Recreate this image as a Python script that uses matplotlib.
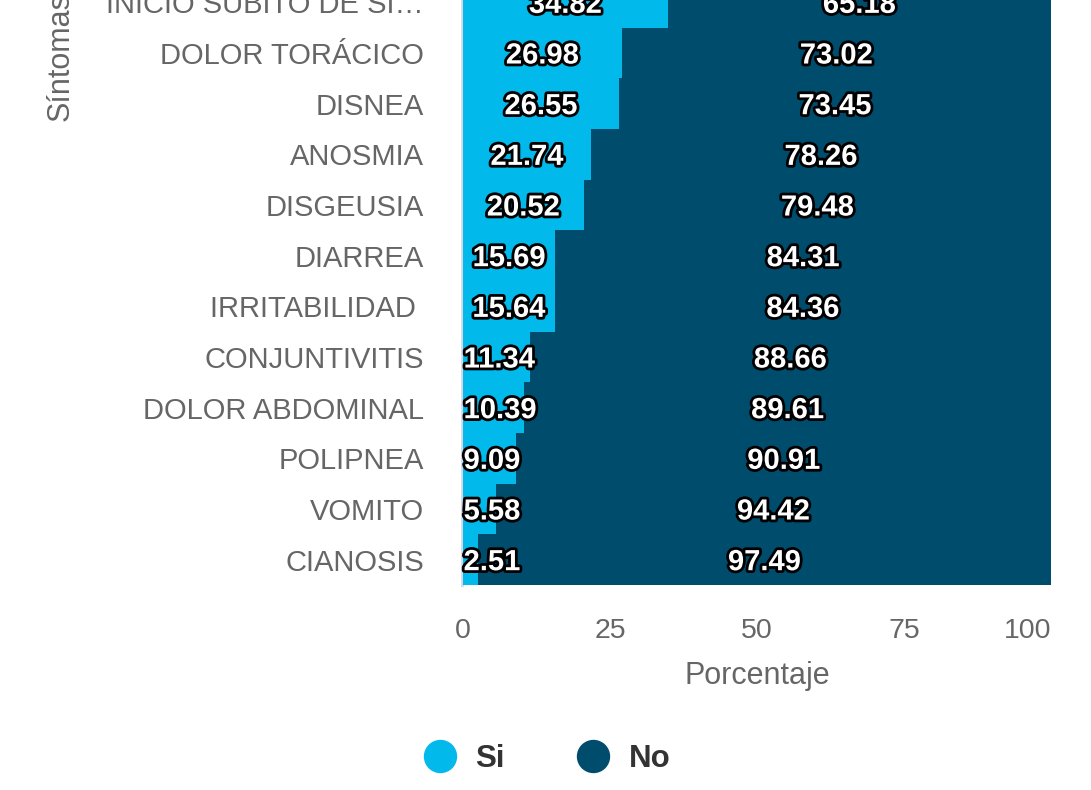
import matplotlib
matplotlib.use("Agg")
import matplotlib.pyplot as plt
import matplotlib.patheffects as pe
from matplotlib.lines import Line2D

plt.rcParams['font.family'] = ['Liberation Sans', 'DejaVu Sans']

# data, bottom row first
sintomas = ['CIANOSIS', 'VOMITO', 'POLIPNEA', 'DOLOR ABDOMINAL', 'CONJUNTIVITIS',
            'IRRITABILIDAD ', 'DIARREA', 'DISGEUSIA', 'ANOSMIA', 'DISNEA',
            'DOLOR TORÁCICO', 'INICIO SUBITO DE SI…']
si = [2.51, 5.58, 9.09, 10.39, 11.34, 15.64, 15.69, 20.52, 21.74, 26.55, 26.98, 34.82]
no = [97.49, 94.42, 90.91, 89.61, 88.66, 84.36, 84.31, 79.48, 78.26, 73.45, 73.02, 65.18]
xticks = [0, 25, 50, 75, 100]

c_si = '#02B9EC'
c_no = '#004C6D'
grey = '#666666'

W, H = 1091, 790
fig = plt.figure(figsize=(W / 100, H / 100), dpi=100)
# axes runs off the top of the picture (cropped chart)
ax = fig.add_axes([463 / W, 205 / H, 588 / W, (585 + 23) / H])

y = list(range(len(sintomas)))
ax.barh(y, si, height=1.0, color=c_si, zorder=2)
ax.barh(y, no, left=si, height=1.0, color=c_no, zorder=2)

stroke = [pe.withStroke(linewidth=4, foreground='black')]
for yi, s, n in zip(y, si, no):
    ty = yi - 0.05
    if s / 2 < 6.5:
        ax.text(0.1, ty, f'{s:.2f}', ha='left', va='center', color='white',
                fontsize=21, fontweight='bold', path_effects=stroke, zorder=3)
    else:
        ax.text(s / 2, ty, f'{s:.2f}', ha='center', va='center', color='white',
                fontsize=21, fontweight='bold', path_effects=stroke, zorder=3)
    ax.text(s + n / 2, ty, f'{n:.2f}', ha='center', va='center', color='white',
            fontsize=21, fontweight='bold', path_effects=stroke, zorder=3)

ax.set_xlim(0, 100)
ax.set_ylim(-0.5, len(sintomas) - 0.5)
ax.set_yticks(y)
ax.set_yticklabels(sintomas, va='center_baseline')
ax.set_xticks(xticks)
ax.tick_params(axis='y', length=0, pad=28, labelsize=21, labelcolor=grey)
ax.tick_params(axis='x', length=0, pad=24, labelsize=20.5, labelcolor=grey)
ax.get_xticklabels()[-1].set_horizontalalignment('right')
for sp in ax.spines.values():
    sp.set_visible(False)
ax.grid(axis='x', color='#D8DCE8', linewidth=1.5, zorder=0)
ax.axvline(-0.25, color='#D3D8E8', linewidth=2, zorder=1, clip_on=False)
ax.set_axisbelow(True)

ax.set_xlabel('Porcentaje', fontsize=22, color=grey, labelpad=12)
ax.set_ylabel('Síntomas', fontsize=22, color=grey)
ax.yaxis.set_label_coords(76 / W, (H - 57) / H, transform=fig.transFigure)

handles = [Line2D([], [], marker='o', linestyle='', markersize=23, color=c_si),
           Line2D([], [], marker='o', linestyle='', markersize=23, color=c_no)]
fig.legend(handles, ['Si', 'No'], loc='center', bbox_to_anchor=(0.5, (H - 759) / H),
           ncol=2, frameon=False, handlelength=1.2, handletextpad=0.55, columnspacing=2.2,
           prop={'size': 22.5, 'weight': 'bold'}, labelcolor='#333333')

fig.savefig('out.png', dpi=100)
